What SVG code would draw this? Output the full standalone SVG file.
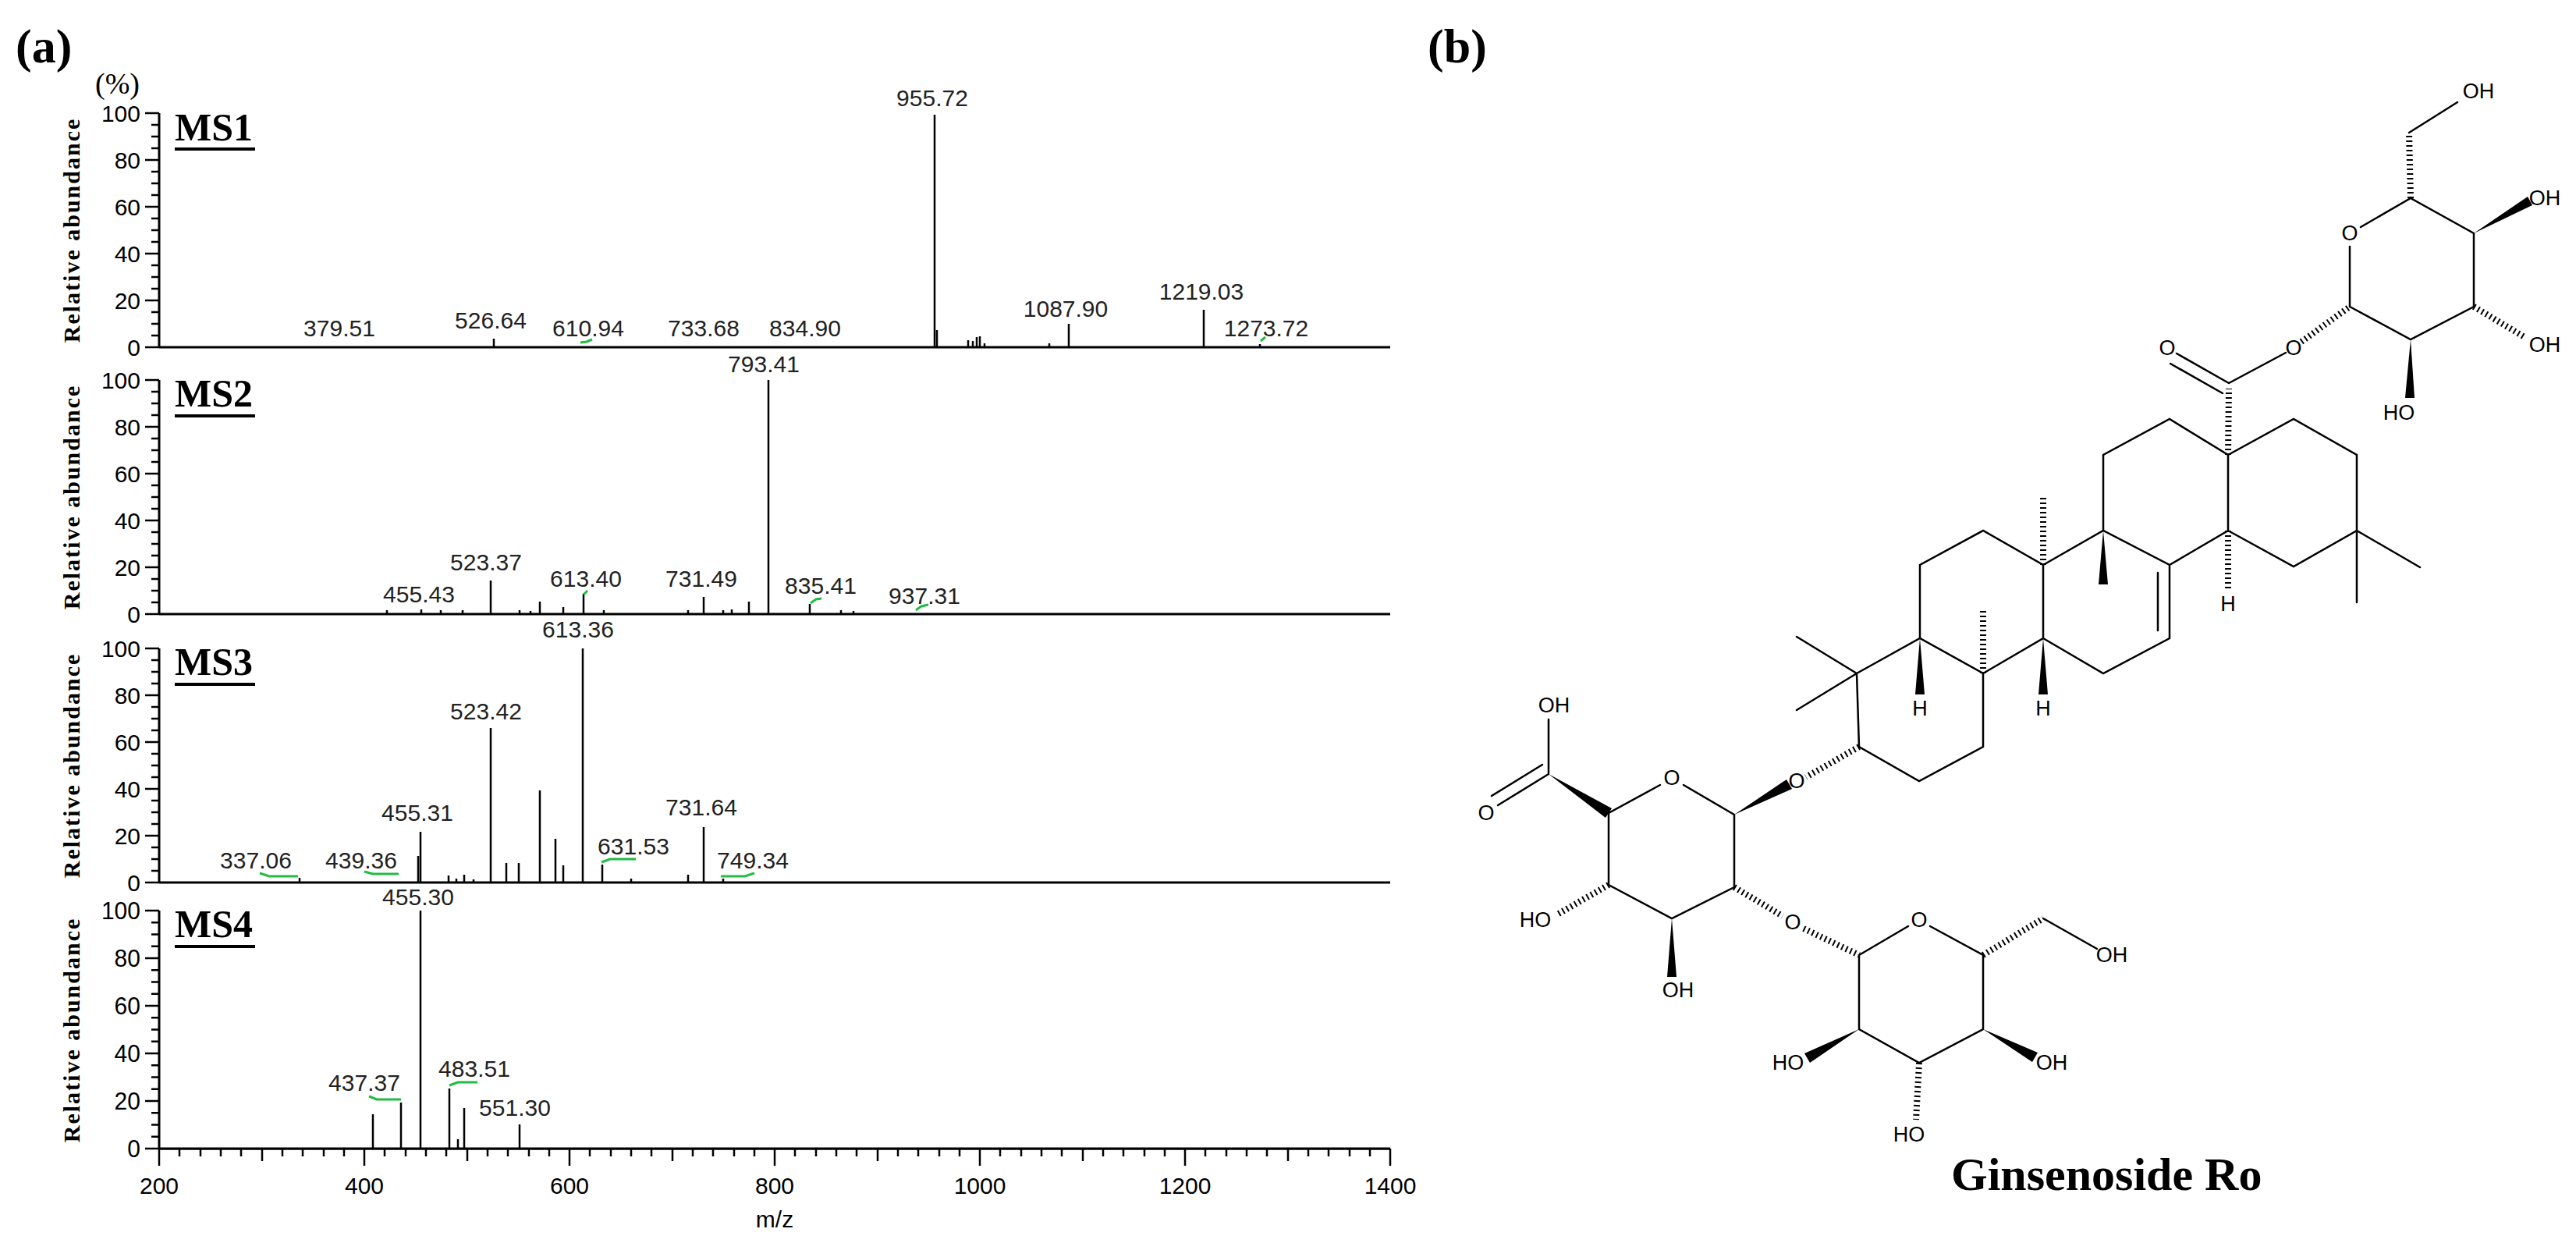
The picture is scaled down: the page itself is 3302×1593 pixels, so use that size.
<svg xmlns="http://www.w3.org/2000/svg" width="3302" height="1593" viewBox="0 0 3302 1593">
<style>
.ax{stroke:#000;stroke-width:3;fill:none}
.tk{stroke:#000;stroke-width:2.5}
.pk{stroke:#000;stroke-width:2.5}
.tl{font-family:"Liberation Sans",Arial,sans-serif;font-size:30px;fill:#000}
.pl{font-family:"Liberation Sans",Arial,sans-serif;font-size:30px;fill:#222;text-anchor:middle}
.ra{font-family:"Liberation Serif","Times New Roman",serif;font-weight:bold;font-size:30px;letter-spacing:2px;text-anchor:middle}
.ms{font-family:"Liberation Serif","Times New Roman",serif;font-weight:bold;font-size:50px}
.gr{stroke:#22bb44;stroke-width:3;fill:none}
.b{stroke:#000;stroke-width:2.5;fill:none;stroke-linecap:round}
.h{stroke:#000;stroke-width:8;stroke-dasharray:2 4;fill:none}
.w{fill:#000}
.at{font-family:"Liberation Sans",Arial,sans-serif;font-size:27px;text-anchor:middle;dominant-baseline:central}
</style>
<defs>
<g id="yax">
<line class="ax" x1="204" y1="0" x2="204" y2="300"/>
<path class="tk" d="M186 0H204M186 60H204M186 120H204M186 180H204M186 240H204M186 300H204M194 15H204M194 30H204M194 45H204M194 75H204M194 90H204M194 105H204M194 135H204M194 150H204M194 165H204M194 195H204M194 210H204M194 225H204M194 255H204M194 270H204M194 285H204"/>
<g class="tl" text-anchor="end">
<text x="180" y="11">100</text><text x="180" y="71">80</text><text x="180" y="131">60</text><text x="180" y="191">40</text><text x="180" y="251">20</text><text x="180" y="311">0</text>
</g>
<line class="ax" x1="204" y1="300" x2="1782" y2="300"/>
</g>
</defs>
<rect width="3302" height="1593" fill="#fff"/>
<text x="20" y="80" font-family="Liberation Serif,serif" font-weight="bold" font-size="62">(a)</text>
<text x="1830" y="80" font-family="Liberation Serif,serif" font-weight="bold" font-size="62">(b)</text>
<text x="122" y="120" font-family="Liberation Serif,serif" font-size="38">(%)</text>

<g id="ms1">
<use href="#yax" transform="translate(0,145)"/>
<text class="ra" transform="translate(102,295) rotate(-90)">Relative abundance</text>
<text class="ms" x="224" y="180">MS1</text><line x1="224" y1="191" x2="327" y2="191" stroke="#000" stroke-width="4"/>
<path class="pk" d="M633 445V434M1198 445V147M1201 445V423M1241 445V436M1247 445V437M1252 445V432M1256 445V431M1262 445V440M1345 445V440M1370 445V415M1543 445V397M1615 445V441"/>
<g class="pl"><text x="435" y="431">379.51</text><text x="629" y="421">526.64</text><text x="754" y="431">610.94</text><text x="902" y="431">733.68</text><text x="1032" y="431">834.90</text><text x="1195" y="136">955.72</text><text x="1366" y="406">1087.90</text><text x="1540" y="384">1219.03</text><text x="1623" y="431">1273.72</text></g>
<path class="gr" d="M744 439L752 438L759 435M1616 437L1622 432"/>
</g>

<g id="ms2">
<use href="#yax" transform="translate(0,487)"/>
<text class="ra" transform="translate(102,637) rotate(-90)">Relative abundance</text>
<text class="ms" x="224" y="521">MS2</text><line x1="224" y1="533" x2="327" y2="533" stroke="#000" stroke-width="4"/>
<path class="pk" d="M985 787V487M629 787V744M748 787V761M902 787V765M960 787V771M692 787V771M722 787V778M1038 787V774M496 787V782M540 787V781M565 787V782M593 787V782M666 787V782M680 787V783M774 787V782M882 787V782M927 787V782M938 787V781M1078 787V782M1094 787V783"/>
<g class="pl"><text x="979" y="477">793.41</text><text x="623" y="731">523.37</text><text x="537" y="772">455.43</text><text x="751" y="752">613.40</text><text x="899" y="752">731.49</text><text x="1052" y="761">835.41</text><text x="1185" y="774">937.31</text></g>
<path class="gr" d="M748 762L753 757M1039 773L1046 768L1053 767M1174 782L1181 777L1190 775"/>
</g>

<g id="ms3">
<use href="#yax" transform="translate(0,831)"/>
<text class="ra" transform="translate(102,981) rotate(-90)">Relative abundance</text>
<text class="ms" x="224" y="865">MS3</text><line x1="224" y1="877" x2="327" y2="877" stroke="#000" stroke-width="4"/>
<path class="pk" d="M747 1131V831M629 1131V933M692 1131V1013M712 1131V1075M722 1131V1109M539 1131V1066M536 1131V1097M649 1131V1106M665 1131V1106M575 1131V1122M595 1131V1121M585 1131V1126M607 1131V1127M772 1131V1108M902 1131V1060M384 1131V1125M809 1131V1126M882 1131V1121M927 1131V1126"/>
<g class="pl"><text x="741" y="817">613.36</text><text x="623" y="922">523.42</text><text x="535" y="1052">455.31</text><text x="899" y="1045">731.64</text><text x="812" y="1095">631.53</text><text x="965" y="1113">749.34</text><text x="328" y="1113">337.06</text><text x="463" y="1113">439.36</text></g>
<path class="gr" d="M333 1119L345 1123L382 1123M467 1117L478 1120L511 1120M771 1105L782 1101L815 1101M924 1123L955 1123L967 1119"/>
</g>

<g id="ms4">
<use href="#yax" transform="translate(0,1167) scale(1,1.017)"/>
<text class="ra" transform="translate(102,1320) rotate(-90)">Relative abundance</text>
<text class="ms" x="224" y="1201">MS4</text><line x1="224" y1="1213" x2="327" y2="1213" stroke="#000" stroke-width="4"/>
<path class="pk" d="M539 1472V1167M478 1472V1428M514 1472V1413M576 1472V1395M587 1472V1460M595 1472V1420M666 1472V1441"/>
<g class="pl"><text x="536" y="1160">455.30</text><text x="467" y="1398">437.37</text><text x="608" y="1380">483.51</text><text x="660" y="1430">551.30</text></g>
<path class="gr" d="M473 1405L483 1409L514 1409M576 1391L587 1387L612 1387"/>
<path class="tk" d="M204 1472V1494M467 1472V1494M730 1472V1494M993 1472V1494M1256 1472V1494M1519 1472V1494M1782 1472V1494M336 1472V1488M599 1472V1488M862 1472V1488M1125 1472V1488M1388 1472V1488M1651 1472V1488M230 1472V1482M257 1472V1482M283 1472V1482M309 1472V1482M362 1472V1482M388 1472V1482M415 1472V1482M441 1472V1482M493 1472V1482M520 1472V1482M546 1472V1482M572 1472V1482M625 1472V1482M651 1472V1482M678 1472V1482M704 1472V1482M756 1472V1482M783 1472V1482M809 1472V1482M835 1472V1482M888 1472V1482M914 1472V1482M941 1472V1482M967 1472V1482M1019 1472V1482M1046 1472V1482M1072 1472V1482M1098 1472V1482M1151 1472V1482M1177 1472V1482M1204 1472V1482M1230 1472V1482M1282 1472V1482M1309 1472V1482M1335 1472V1482M1361 1472V1482M1414 1472V1482M1440 1472V1482M1467 1472V1482M1493 1472V1482M1545 1472V1482M1572 1472V1482M1598 1472V1482M1624 1472V1482M1677 1472V1482M1703 1472V1482M1730 1472V1482M1756 1472V1482"/>
<g class="tl" text-anchor="middle"><text x="204" y="1530">200</text><text x="467" y="1530">400</text><text x="730" y="1530">600</text><text x="993" y="1530">800</text><text x="1256" y="1530">1000</text><text x="1519" y="1530">1200</text><text x="1782" y="1530">1400</text><text x="993" y="1573">m/z</text></g>
</g>

<g id="aglycone">
<path class="b" d="M2380 863L2461 818L2542 863L2542 957L2460 1001L2383 957Z M2461 818L2461 724L2542 680L2619 724L2619 818L2542 863 M2619 724L2696 680L2781 724L2781 818L2696 863L2619 818 M2696 680L2696 583L2781 537L2856 583L2856 680L2781 724 M2856 583L2940 537L3021 583L3021 680L2940 726L2856 680 M3021 680L3021 772 M3021 680L3102 727 M2380 863L2303 816 M2380 863L2303 910 M2766 734L2766 808 M2857 491L2930 452 M2857 491L2790 453 M2849 504L2782 466"/>
<polygon class="w" points="2696,680 2690,749 2702,749"/>
<polygon class="w" points="2619,818 2613,890 2625,890"/>
<polygon class="w" points="2461,818 2455,890 2467,890"/>
<path class="h" d="M2619 724L2619 634 M2856 680L2856 755 M2542 863L2542 782 M2856 583L2857 498 M2383 957L2315 996"/>
<g class="at"><text x="2856" y="774">H</text><text x="2619" y="908">H</text><text x="2461" y="908">H</text><text x="2778" y="446">O</text><text x="2940" y="446">O</text><text x="2303" y="1001">O</text></g>
</g>

<g id="glc-ester">
<path class="b" d="M3012 393L3012 316 M3026 291L3090 254L3171 299L3171 393L3090 435L3012 393 M3088 170L3150 131"/>
<path class="h" d="M2950 438L3012 393 M3090 254L3088 170 M3171 393L3236 432"/>
<polygon class="w" points="3171,299 3240,252 3246,263"/>
<polygon class="w" points="3090,435 3083,510 3095,510"/>
<g class="at"><text x="3012" y="299">O</text><text x="3177" y="117">OH</text><text x="3262" y="254">OH</text><text x="3262" y="442">OH</text><text x="3075" y="529">HO</text></g>
</g>

<g id="glcA">
<path class="b" d="M2223 1044L2158 1006 M2128 1006L2062 1042L2062 1134L2143 1177L2223 1137L2223 1044 M1985 992L1985 922 M1985 992L1920 1032 M1977 980L1912 1020"/>
<polygon class="w" points="2223,1044 2290,999 2297,1011"/>
<polygon class="w" points="1985,992 2058,1048 2066,1036"/>
<polygon class="w" points="2143,1177 2137,1252 2149,1252"/>
<path class="h" d="M2062 1134L1996 1172 M2223 1137L2285 1174"/>
<g class="at"><text x="2143" y="997">O</text><text x="1992" y="904">OH</text><text x="1905" y="1042">O</text><text x="1968" y="1179">HO</text><text x="2151" y="1269">OH</text><text x="2298" y="1182">O</text></g>
</g>

<g id="glc">
<path class="b" d="M2383 1224L2446 1187 M2474 1187L2542 1224L2542 1319L2460 1362L2383 1319L2383 1224 M2619 1177L2688 1216"/>
<path class="h" d="M2312 1190L2383 1224 M2542 1224L2619 1177 M2460 1362L2456 1435"/>
<polygon class="w" points="2383,1319 2313,1350 2320,1362"/>
<polygon class="w" points="2542,1319 2605,1361 2612,1349"/>
<g class="at"><text x="2460" y="1179">O</text><text x="2707" y="1224">OH</text><text x="2630" y="1362">OH</text><text x="2447" y="1454">HO</text><text x="2292" y="1362">HO</text></g>
</g>
<text x="2501" y="1525" font-family="Liberation Serif,serif" font-weight="bold" font-size="60">Ginsenoside Ro</text>
</svg>
